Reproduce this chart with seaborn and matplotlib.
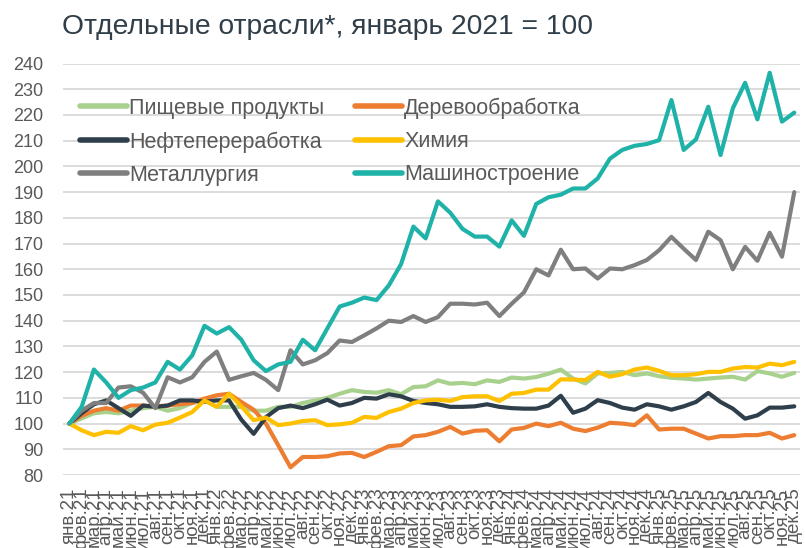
import pandas as pd
import numpy as np
import matplotlib
matplotlib.use("Agg")
import matplotlib.pyplot as plt
import seaborn as sns

# months jan-21 .. dec-25
month_names = ["янв", "фев", "мар", "апр", "май", "июн",
               "июл", "авг", "сен", "окт", "ноя", "дек"]
years = ["21", "22", "23", "24", "25"]
months = [m + "." + y for y in years for m in month_names]

# values (index, jan 2021 = 100)
food = [100, 102, 104, 104.5, 104, 105, 106, 106.5, 105, 106, 108, 109,
        106.5, 106.5, 106.5, 105, 105, 106.5, 106.5, 108, 109, 110,
        111.6, 113, 112.3, 112, 113, 111.4, 114.2, 114.5, 116.8, 115.5,
        115.8, 115.3, 116.8, 116.2, 117.9, 117.5, 118.1, 119.4, 121, 117.5,
        115.6, 119.5, 119.7, 120.1, 118.8, 119.5, 118.4, 117.8, 117.5, 117.1,
        117.5, 117.9, 118.2, 117.1, 120.4, 119.5, 118.2, 119.7]
wood = [100, 103, 105, 106, 105, 107, 107, 106.7, 107, 107.5, 108, 109.7,
        111, 111.6, 108.4, 105.4, 100, 91.6, 83, 87, 87, 87.3,
        88.4, 88.6, 87, 89, 91.2, 91.6, 95, 95.5, 96.8, 98.7,
        96.1, 97.2, 97.4, 93.1, 97.7, 98.3, 100, 99, 100.3, 98,
        97.1, 98.4, 100.3, 100, 99.4, 103.2, 97.7, 98, 98, 96.1,
        94.2, 95.1, 95.1, 95.5, 95.5, 96.4, 94.2, 95.5]
oil = [100, 104, 107.5, 109, 106, 103, 107, 106.5, 107, 109, 109, 108.5,
       109, 109, 101.5, 96, 102.5, 106, 107, 106, 107.5, 109.3,
       107, 108, 110, 109.7, 111.4, 110.6, 108.8, 108, 107.5, 106.5,
       106.5, 106.7, 107.5, 106.5, 106, 105.8, 105.8, 107, 110.8, 104.2,
       105.8, 109.1, 108, 106.2, 105.4, 107.5, 106.7, 105.4, 106.7, 108.4,
       111.9, 108.4, 105.8, 101.9, 103.2, 106.2, 106.2, 106.7]
chem = [100, 97.4, 95.5, 96.8, 96.4, 99, 97.4, 99.6, 100.3, 102.3, 104.5, 109,
        106.5, 111.6, 106.7, 101.3, 102.3, 99.4, 100, 101, 101.3, 99.4,
        99.7, 100.3, 102.6, 102.2, 104.5, 105.8, 108, 109, 109.3, 108.8,
        110.3, 110.6, 110.6, 108.8, 111.6, 111.9, 113.2, 113.2, 117.2, 117.1,
        116.9, 120.1, 118.2, 119.2, 121, 121.8, 120.5, 118.8, 118.8, 119.2,
        120.1, 120.1, 121.4, 122, 121.8, 123.3, 122.7, 124]
metal = [100, 105, 108, 108, 114, 114.5, 112, 106, 118, 116, 118, 124,
         128, 117, 118.4, 119.7, 117, 113, 128.5, 123, 124.6, 127.4,
         132.3, 131.7, 134.3, 137, 140, 139.5, 141.8, 139.5, 141.4, 146.6,
         146.6, 146.3, 147, 141.8, 146.6, 151, 160, 157.6, 167.6, 160,
         160.3, 156.4, 160.3, 160, 161.6, 163.6, 167.4, 172.6, 168, 163.6,
         174.6, 171.3, 160, 168.7, 163.3, 174.2, 164.9, 190]
machine = [100, 106.5, 121, 116, 110, 113, 114, 116, 124, 121, 126.5, 138,
           135, 137.5, 132.6, 124.6, 120.4, 123, 124, 132.6, 128.5, 137,
           145.5, 147, 149, 148, 153.7, 162, 176.6, 172, 186.4, 182,
           175.7, 172.7, 172.7, 168.8, 179, 173, 185.4, 188, 189, 191.4,
           191.4, 195.3, 203, 206.4, 208, 208.7, 210.2, 225.8, 206.4, 210.5,
           223.2, 204.4, 222.6, 232.5, 218.3, 236.4, 217.4, 220.9]

names = ["Пищевые продукты", "Деревообработка", "Нефтепереработка",
         "Химия", "Металлургия", "Машиностроение"]
colors = ["#A9D18E", "#ED7D31", "#2E3F4B", "#FFC000", "#7F7F7F", "#1FB2A8"]

series = [food, wood, oil, chem, metal, machine]
df = pd.concat([pd.DataFrame({"month": np.arange(len(months)), "value": s, "sector": n})
                for s, n in zip(series, names)])

sns.set_style("white")
plt.rcParams['font.family'] = ['Liberation Sans', 'DejaVu Sans']

fig = plt.figure(figsize=(8.05, 5.48), dpi=100)
ax = fig.add_axes([0.0785, 0.1332, 0.9158, 0.7509])

sns.lineplot(data=df, x="month", y="value", hue="sector", hue_order=names,
             palette=colors, linewidth=3, ax=ax)

ax.set_xlim(-0.5, len(months) - 0.5)
ax.set_ylim(80, 240)
ax.set_yticks(range(80, 241, 10))
ax.set_xticks(range(len(months)))
ax.set_xticklabels(months, rotation=90, va="top")
ax.tick_params(axis="y", labelsize=13, colors="#595959", pad=14, length=0)
ax.tick_params(axis="x", labelsize=13.5, colors="#595959", pad=9, length=0)
ax.set_xlabel("")
ax.set_ylabel("")
ax.yaxis.grid(True, color="#D9D9D9", linewidth=1.3)
ax.xaxis.grid(False)
for sp in ax.spines.values():
    sp.set_visible(False)

# legend: two columns, column-major order
handles, labels = ax.get_legend_handles_labels()
order = [0, 2, 4, 1, 3, 5]
leg = ax.legend([handles[i] for i in order], [labels[i] for i in order],
                ncol=2, frameon=False, loc="upper left",
                bbox_to_anchor=(0.011, 0.938), borderaxespad=0, fontsize=15.5,
                handlelength=2.2, handletextpad=0.1, columnspacing=1.4,
                labelspacing=0.57)
for t in leg.get_texts():
    t.set_color("#595959")
for h in leg.get_lines():
    h.set_linewidth(4)
    h.set_solid_capstyle("round")

fig.text(0.077, 0.95, "Отдельные отрасли*, январь 2021 = 100",
         fontsize=20.3, color="#2F3E48", va="center", ha="left")

fig.savefig("out.png", dpi=100)
